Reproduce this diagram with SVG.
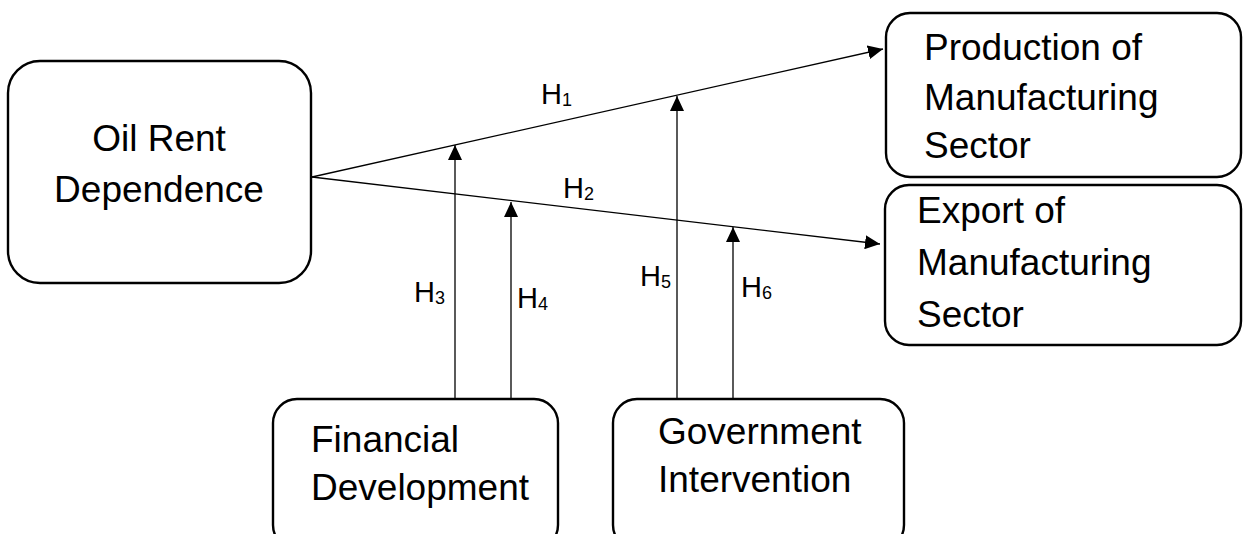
<svg xmlns="http://www.w3.org/2000/svg" width="1243" height="534" viewBox="0 0 1243 534">
<style>
.box{fill:#fff;stroke:#000;stroke-width:2.4}
.t{font-family:"Liberation Sans",Arial,sans-serif;font-size:37px;fill:#000}
.h{font-family:"Liberation Sans",Arial,sans-serif;font-size:29px;fill:#000}
.s{font-size:18px}
.c{stroke:#000;stroke-width:1.3;fill:none;marker-end:url(#ah)}
</style>
<defs>
<marker id="ah" markerUnits="userSpaceOnUse" markerWidth="15" markerHeight="14" refX="15" refY="7" orient="auto">
<path d="M0,0 L15,7 L0,14 z" fill="#000"/>
</marker>
</defs>
<rect width="1243" height="534" fill="#fff"/>
<g id="oil">
<rect class="box" x="8" y="61" width="303" height="222" rx="32" ry="32"/>
<text class="t" x="159" y="151" text-anchor="middle">Oil Rent</text>
<text class="t" x="159" y="202" text-anchor="middle">Dependence</text>
</g>
<g id="production">
<rect class="box" x="886" y="13" width="355" height="164" rx="24" ry="24"/>
<text class="t" x="924" y="60">Production of</text>
<text class="t" x="924" y="110">Manufacturing</text>
<text class="t" x="924" y="158">Sector</text>
</g>
<g id="export">
<rect class="box" x="885" y="185" width="356" height="160" rx="24" ry="24"/>
<text class="t" x="917" y="223">Export of</text>
<text class="t" x="917" y="275">Manufacturing</text>
<text class="t" x="917" y="327">Sector</text>
</g>
<g id="financial">
<rect class="box" x="273" y="399" width="285" height="150" rx="24" ry="24"/>
<text class="t" x="311" y="452">Financial</text>
<text class="t" x="311" y="500">Development</text>
</g>
<g id="government">
<rect class="box" x="613" y="399" width="291" height="150" rx="24" ry="24"/>
<text class="t" x="658" y="444">Government</text>
<text class="t" x="658" y="492">Intervention</text>
</g>
<g id="connectors">
<line class="c" x1="312" y1="177" x2="883" y2="49"/>
<line class="c" x1="312" y1="177" x2="880" y2="244"/>
<line class="c" x1="455" y1="399" x2="455" y2="145"/>
<line class="c" x1="511" y1="399" x2="511" y2="202"/>
<line class="c" x1="677" y1="399" x2="677" y2="96"/>
<line class="c" x1="733" y1="399" x2="733" y2="227"/>
</g>
<g id="labels">
<text class="h" x="541" y="104">H<tspan class="s" dy="2">1</tspan></text>
<text class="h" x="563" y="198">H<tspan class="s" dy="2">2</tspan></text>
<text class="h" x="414" y="302">H<tspan class="s" dy="2">3</tspan></text>
<text class="h" x="517" y="308">H<tspan class="s" dy="2">4</tspan></text>
<text class="h" x="640" y="286">H<tspan class="s" dy="2">5</tspan></text>
<text class="h" x="741" y="297">H<tspan class="s" dy="2">6</tspan></text>
</g>
</svg>
